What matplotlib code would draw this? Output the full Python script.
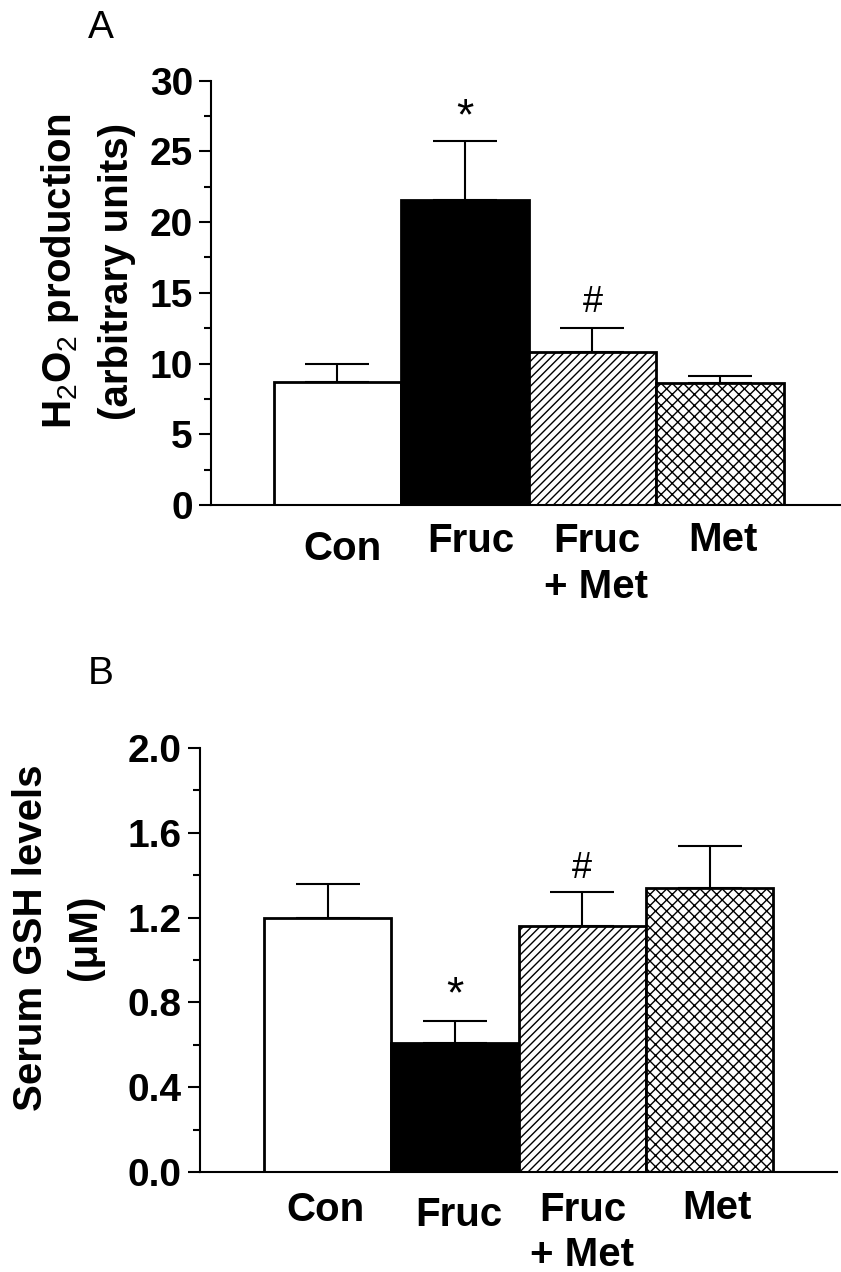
import matplotlib
matplotlib.use("Agg")
import matplotlib.pyplot as plt
import numpy as np
from matplotlib.ticker import MultipleLocator, FormatStrFormatter
from matplotlib.transforms import blended_transform_factory

# ---- data -------------------------------------------------------------
groups = ["Con", "Fruc", "Fruc\n+ Met", "Met"]
h2o2_mean = [8.70, 21.60, 10.82, 8.65]
h2o2_sem = [1.27, 4.16, 1.72, 0.45]
gsh_mean = [1.20, 0.61, 1.16, 1.34]
gsh_sem = [0.16, 0.10, 0.16, 0.20]
sig_marks = ["", "*", "#", ""]
h2o2_ticks = [0, 5, 10, 15, 20, 25, 30]
gsh_ticks = [0.0, 0.4, 0.8, 1.2, 1.6, 2.0]

# ---- style ------------------------------------------------------------
plt.rcParams.update({
    "font.family": ["Liberation Sans", "DejaVu Sans"],
    "mathtext.fontset": "custom",
    "mathtext.rm": "Liberation Sans",
    "mathtext.bf": "Liberation Sans:bold",
    "hatch.linewidth": 1.0,
})

W, H = 841, 1272
PT = 0.72  # points per pixel at 100 dpi
fig = plt.figure(figsize=(W / 100, H / 100), dpi=100)

fills = ["white", "black", "white", "white"]
hatches = [None, None, "////", "xxx"]
mark_size = {"*": 32, "#": 26}


def px_axes(left, right, top, bottom):
    return fig.add_axes([left / W, 1 - bottom / H, (right - left) / W, (bottom - top) / H])


def draw_panel(ax, means, sems, ticks, minor_step, xlim, fmt,
               mark_off_px, label_dx_px, label_dy_px):
    x = np.arange(1, len(means) + 1)
    ax.errorbar(x, means, yerr=[np.zeros(len(sems)), sems], fmt="none",
                ecolor="black", elinewidth=1.5, capsize=23, capthick=1.5,
                zorder=1)
    bars = ax.bar(x, means, width=1.0, color=fills, edgecolor="black",
                  linewidth=2.0, zorder=2)
    for b, h in zip(bars, hatches):
        if h:
            b.set_hatch(h)

    ax.set_xlim(*xlim)
    ax.set_ylim(ticks[0], ticks[-1])
    ax.set_yticks(ticks)
    ax.yaxis.set_major_formatter(FormatStrFormatter(fmt))
    ax.yaxis.set_minor_locator(MultipleLocator(minor_step))
    ax.set_xticks([])
    for s in ("top", "right"):
        ax.spines[s].set_visible(False)
    for s in ("left", "bottom"):
        ax.spines[s].set_linewidth(1.5)
    ax.tick_params(axis="y", which="major", length=9, width=1.5,
                   labelsize=28, pad=4)
    ax.tick_params(axis="y", which="minor", length=5, width=1.5)
    for lbl in ax.get_yticklabels():
        lbl.set_fontweight("bold")

    # significance marks above the error bars
    for xi, m, s, mk in zip(x, means, sems, sig_marks):
        if mk:
            ax.annotate(mk, xy=(xi, m + s), xytext=(0, mark_off_px[mk] * PT),
                        textcoords="offset points", ha="center",
                        va="baseline", fontsize=mark_size[mk])

    # group labels under the axis
    trans = blended_transform_factory(ax.transData, ax.transAxes)
    for xi, g, dx, dy in zip(x, groups, label_dx_px, label_dy_px):
        ax.annotate(g, xy=(xi, 0), xycoords=trans,
                    xytext=(dx * PT, -dy * PT), textcoords="offset points",
                    ha="center", va="top", fontsize=29, fontweight="bold",
                    linespacing=1.25)


# Panel A: H2O2 production
axA = px_axes(211, 840, 80.7, 505)
draw_panel(axA, h2o2_mean, h2o2_sem, h2o2_ticks, 2.5, (0.01, 4.94), "%d",
           {"*": 11, "#": 16}, [5, 6, 4, 3], [25, 17, 17, 16])

# Panel B: serum GSH
axB = px_axes(200, 837, 748, 1172)
draw_panel(axB, gsh_mean, gsh_sem, gsh_ticks, 0.2, (-0.003, 5.0), "%.1f",
           {"*": 14, "#": 14}, [-2, 4, 0, 7], [19, 24, 19, 17])

# axis titles and panel letters
fig.text(60 / W, 1 - 271 / H, r"H$_\mathrm{2}$O$_\mathrm{2}$ production",
         rotation=90, ha="center", va="center", fontsize=29, fontweight="bold")
fig.text(117 / W, 1 - 271 / H, "(arbitrary units)",
         rotation=90, ha="center", va="center", fontsize=29, fontweight="bold")
fig.text(31 / W, 1 - 938 / H, "Serum GSH levels",
         rotation=90, ha="center", va="center", fontsize=29, fontweight="bold")
fig.text(85 / W, 1 - 937 / H, "(\u03bcM)",
         rotation=90, ha="center", va="center", fontsize=29, fontweight="bold")

fig.text(88 / W, 1 - 10 / H, "A", ha="left", va="top", fontsize=28)
fig.text(88 / W, 1 - 656 / H, "B", ha="left", va="top", fontsize=28)

fig.savefig("out.png", dpi=100)
